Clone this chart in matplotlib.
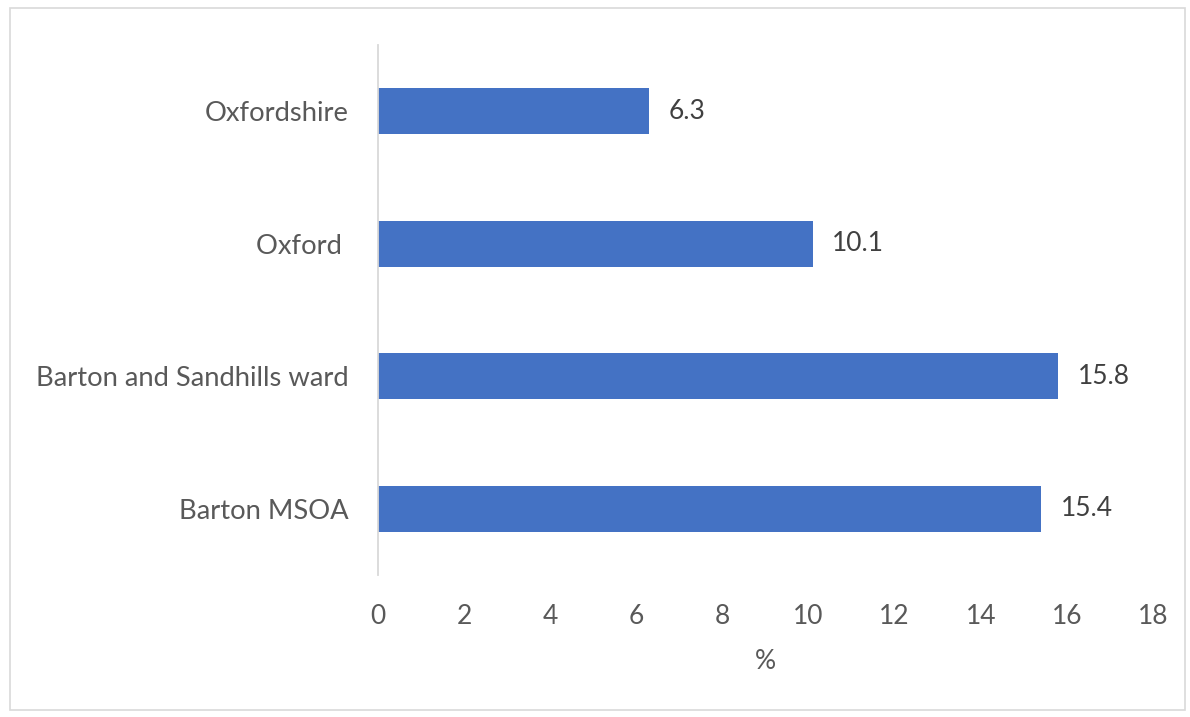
import matplotlib
matplotlib.use("Agg")
import matplotlib.pyplot as plt
from matplotlib.patches import Rectangle

categories = ["Barton MSOA", "Barton and Sandhills ward", "Oxford ", "Oxfordshire"]
values = [15.4, 15.8, 10.1, 6.3]
xticks = [0, 2, 4, 6, 8, 10, 12, 14, 16, 18]

plt.rcParams['font.family'] = ['Lato', 'DejaVu Sans']

FS = 19
fig = plt.figure(figsize=(11.9, 7.17), dpi=100)
ax = fig.add_axes([378/1190, 1-575/717, (1153-378)/1190, (575-45)/717])

ypos = list(range(len(categories)))
bars = ax.barh(ypos, values, height=0.35, color="#4472C4")
for y, v in zip(ypos, values):
    ax.annotate(f"{v}", xy=(v, y), xytext=(14, 0), textcoords="offset points",
                va="center", ha="left", fontsize=FS, color="#404040")

ax.set_xlim(0, 18)
ax.set_ylim(-0.5, 3.5)
ax.set_xticks(xticks)
ax.set_xticklabels([str(t) for t in xticks], fontsize=FS, color="#595959")
ax.set_yticks(ypos)
ax.set_yticklabels(categories, fontsize=19.7, color="#595959")
ax.tick_params(axis="x", length=0, pad=21)
ax.tick_params(axis="y", length=0, pad=21)
for s in ["top", "right", "bottom"]:
    ax.spines[s].set_visible(False)
ax.spines["left"].set_color("#D9D9D9")
ax.spines["left"].set_linewidth(1.3)
ax.set_xlabel("%", fontsize=FS, color="#595959", labelpad=14)

fig.patches.append(Rectangle((10/1190, 1-710/717), (1185-10)/1190, (710-8)/717,
                             transform=fig.transFigure, fill=False,
                             edgecolor="#D9D9D9", linewidth=1.2))

fig.savefig("out.png", dpi=100)
